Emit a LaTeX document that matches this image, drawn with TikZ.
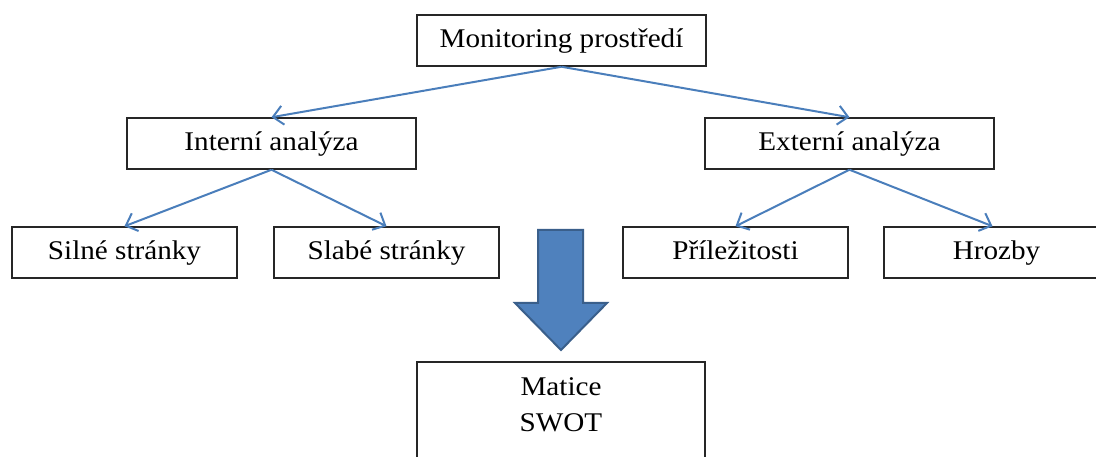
\documentclass[tikz,border=0pt]{standalone}
\usepackage{fontspec}
\setmainfont[FakeStretch=1.08]{Liberation Serif}
\usetikzlibrary{arrows.meta}
\definecolor{linkblue}{HTML}{4A7EBB}
\definecolor{arrowfill}{HTML}{4F81BD}
\definecolor{arrowedge}{HTML}{3A5F8B}
\begin{document}
\begin{tikzpicture}[x=1pt,y=-1pt,
  box/.style={draw=black!85, line width=1.5pt, minimum height=51pt,
              inner sep=0pt, text height=18pt, text depth=3pt,
              font=\fontsize{27}{36}\selectfont},
  wide/.style={box, minimum width=289pt},
  narrow/.style={box, minimum width=225pt},
  link/.style={draw=linkblue, line width=2pt,
               -{Straight Barb[length=10pt,width=19pt,line width=2pt]}}]
\clip (0,0) rectangle (1096,457);
\fill[white] (0,0) rectangle (1096,457);

% top level
\node[wide] (mon) at (561.5,40.5) {Monitoring prostředí};

% second level
\node[wide] (int) at (271.5,143.5) {Interní analýza};
\node[wide] (ext) at (849.5,143.5) {Externí analýza};

% third level
\node[narrow] (sil) at (124.5,252.5) {Silné stránky};
\node[narrow] (sla) at (386.5,252.5) {Slabé stránky};
\node[narrow] (pri) at (735.5,252.5) {Příležitosti};
\node[narrow] (hro) at (996.5,252.5) {Hrozby};

% connectors
\draw[link] (mon.south) -- (int.north);
\draw[link] (mon.south) -- (ext.north);
\draw[link] (int.south) -- (sil.north);
\draw[link] (int.south) -- (sla.north);
\draw[link] (ext.south) -- (pri.north);
\draw[link] (ext.south) -- ([xshift=-4pt]hro.north);

% block arrow down to the matrix
\draw[fill=arrowfill, draw=arrowedge, line width=2pt, line join=miter]
  (538,230) -- (583,230) -- (583,303) -- (607,303) -- (561,350)
  -- (515,303) -- (538,303) -- cycle;

% result box, open towards the bottom edge
\draw[draw=black!85, line width=1.5pt] (417,470) -- (417,362) -- (705,362) -- (705,470);
\node[align=center, font=\fontsize{27}{36}\selectfont, anchor=base] (swot) at (561,431)
  {Matice\\SWOT};
\end{tikzpicture}
\end{document}
